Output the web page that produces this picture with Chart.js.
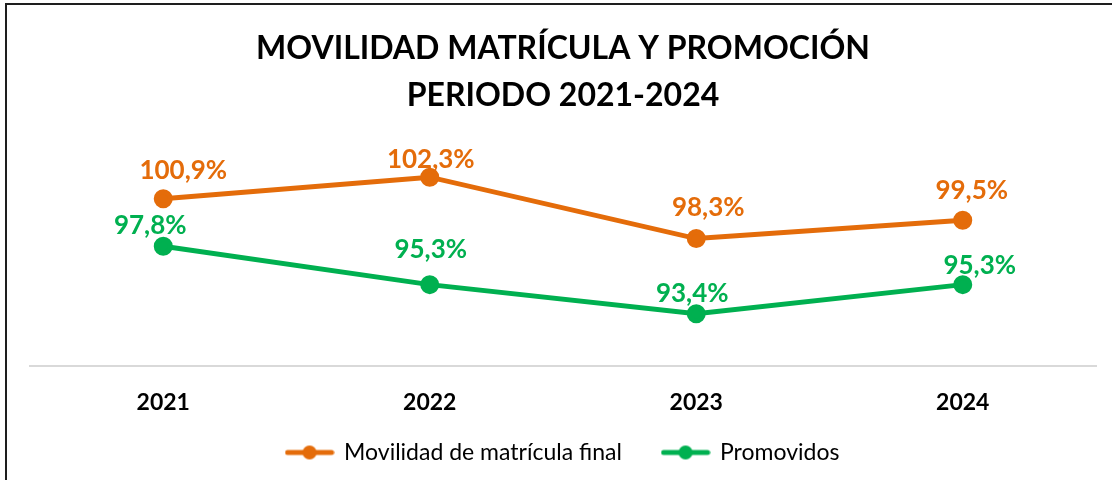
<!DOCTYPE html>
<html>
<head>
<meta charset="utf-8">
<script src="https://cdn.jsdelivr.net/npm/chart.js@4.4.0/dist/chart.umd.min.js"></script>
<style>
  body { margin: 0; background: #fff; overflow: hidden; }
  #frame { position: absolute; left: 5px; top: 3px; width: 1200px; height: 600px; border: 2px solid #1e1e1e; }
  #wrap { position: absolute; left: 0; top: 0; width: 1112px; height: 480px; }
</style>
</head>
<body>
<div id="frame"></div>
<div id="wrap"><canvas id="movChart"></canvas></div>
<script>
//<---------------- data ---------------->
const years = ["2021", "2022", "2023", "2024"];
const movilidad = [100.9, 102.3, 98.3, 99.5];
const promovidos = [97.8, 95.3, 93.4, 95.3];

const orange = "#E46C0A";
const green = "#00B050";

// label nudges (dx, dy from the point), the labels were hand placed in the original
const labelShift = [
  [[20, -28], [1, -18], [12, -31], [9, -30]],
  [[-13, -21], [1, -35], [-4, -20], [17, -19]]
];

// legend marker: short line with a dot in the middle
function legendMark(color) {
  const c = document.createElement("canvas");
  c.width = 50; c.height = 18;
  const g = c.getContext("2d");
  g.strokeStyle = color; g.lineWidth = 5; g.lineCap = "round";
  g.beginPath(); g.moveTo(3, 9); g.lineTo(47, 9); g.stroke();
  g.fillStyle = color;
  g.beginPath(); g.arc(25, 9, 7, 0, Math.PI * 2); g.fill();
  return c;
}

// draws the % labels over every point
const pointLabels = {
  id: "pointLabels",
  afterDatasetsDraw(chart) {
    const ctx = chart.ctx;
    ctx.save();
    ctx.font = "bold 26px Lato";
    ctx.textAlign = "center";
    ctx.textBaseline = "middle";
    chart.data.datasets.forEach((ds, i) => {
      const meta = chart.getDatasetMeta(i);
      ctx.fillStyle = ds.borderColor;
      meta.data.forEach((pt, j) => {
        const s = labelShift[i][j];
        ctx.fillText(ds.data[j].toFixed(1).replace(".", ",") + "%", pt.x + s[0], pt.y + s[1]);
      });
    });
    ctx.restore();
  }
};

new Chart(document.getElementById("movChart"), {
  type: "line",
  data: {
    labels: years,
    datasets: [{
      label: "Movilidad de matrícula final",
      data: movilidad,
      borderColor: orange,
      backgroundColor: orange,
      borderWidth: 5,
      pointRadius: 7,
      pointHoverRadius: 7
    }, {
      label: "Promovidos",
      data: promovidos,
      borderColor: green,
      backgroundColor: green,
      borderWidth: 5,
      pointRadius: 7,
      pointHoverRadius: 7
    }]
  },
  options: {
    responsive: true,
    maintainAspectRatio: false,
    animation: false,
    layout: { padding: { left: 30, right: 16, top: 0, bottom: 6 } },
    plugins: {
      title: {
        display: true,
        text: ["MOVILIDAD MATRÍCULA Y PROMOCIÓN", "PERIODO 2021-2024"],
        color: "#000",
        font: { family: "Lato", size: 32, weight: "bold", lineHeight: 1.47 },
        padding: { top: 25, bottom: 32 }
      },
      legend: {
        position: "bottom",
        labels: {
          usePointStyle: true,
          pointStyleWidth: 46,
          padding: 23,
          color: "#000",
          font: { family: "Lato", size: 23 },
          generateLabels(chart) {
            // trailing spaces on the first entry widen the gap between the two items
            return chart.data.datasets.map((ds, i) => ({
              text: ds.label + (i === 0 ? "   " : ""),
              pointStyle: legendMark(ds.borderColor),
              fillStyle: ds.borderColor,
              strokeStyle: ds.borderColor,
              lineWidth: 0,
              fontColor: "#000",
              datasetIndex: i
            }));
          }
        }
      },
      tooltip: { enabled: false }
    },
    scales: {
      x: {
        offset: true,
        grid: { display: false },
        border: { display: true, color: "#d9d9d9", width: 2 },
        ticks: { color: "#000", padding: 15, font: { family: "Lato", size: 23, weight: "bold" } },
        afterFit(scale) { scale.height = 52; }
      },
      y: {
        display: false,
        min: 90,
        max: 104
      }
    }
  },
  plugins: [pointLabels]
});
</script>
</body>
</html>
